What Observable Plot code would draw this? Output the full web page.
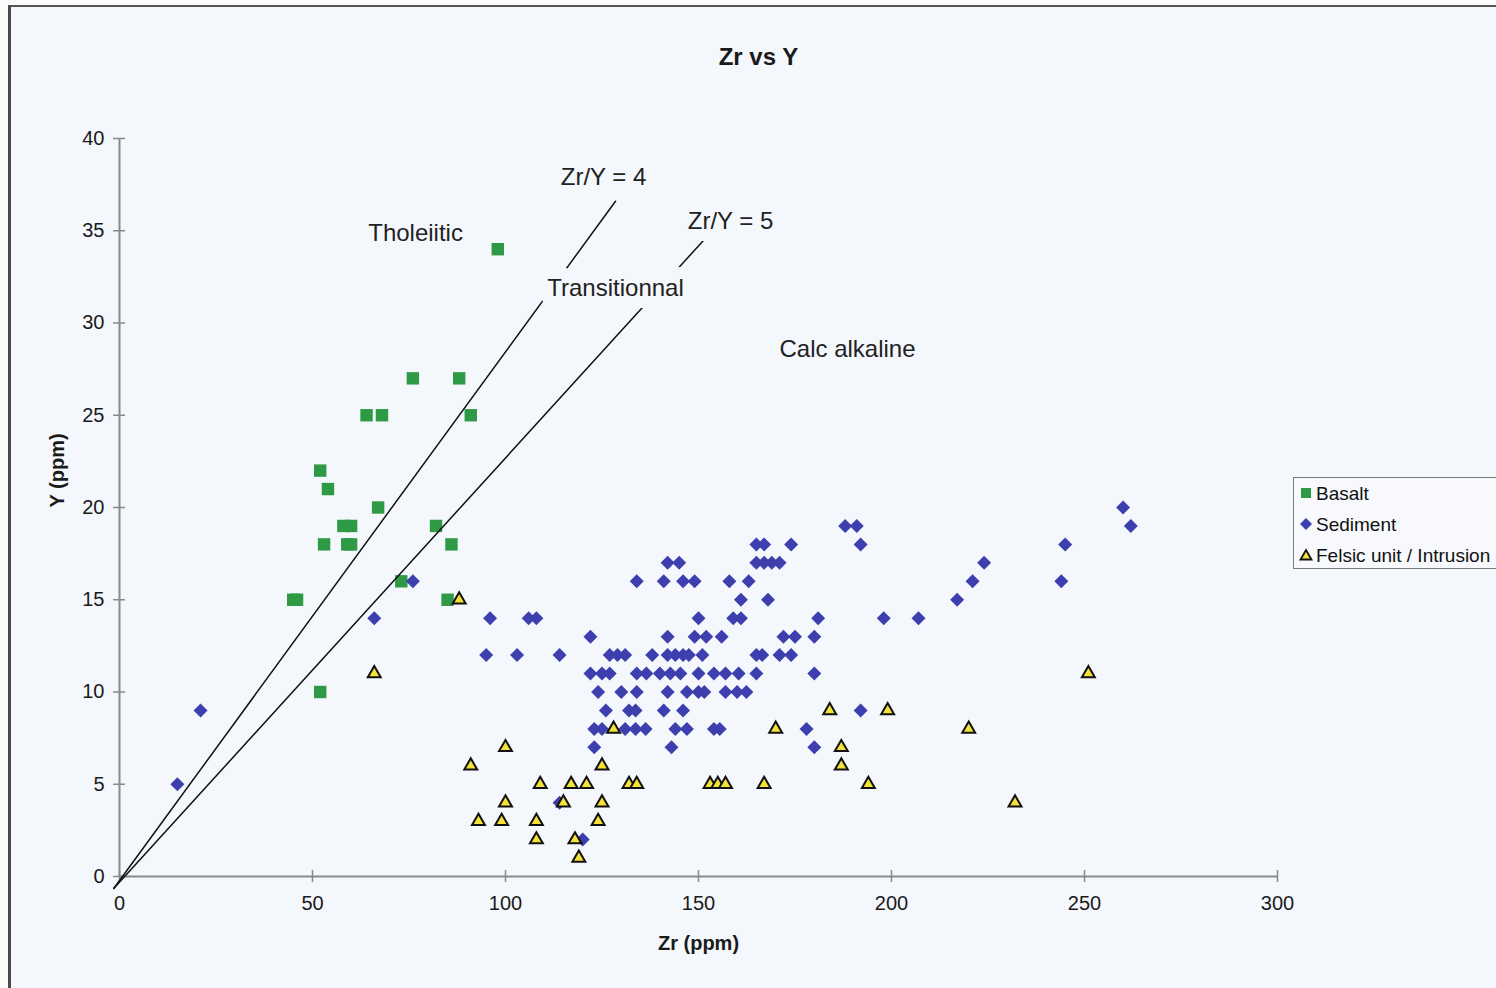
<!DOCTYPE html>
<html><head><meta charset="utf-8">
<script src="https://cdn.jsdelivr.net/npm/d3@7"></script>
<script src="https://cdn.jsdelivr.net/npm/@observablehq/plot@0.6"></script>
<style>
html,body{margin:0;padding:0;background:#fbfbfc;}
#wrap{position:relative;width:1496px;height:988px;overflow:hidden;background:#fbfbfc;font-family:"Liberation Sans",Arial,sans-serif;}
#frame{position:absolute;left:8px;top:5px;width:1520px;height:1000px;border-left:3px solid #4a4a4a;border-top:2px solid #555;box-sizing:border-box;background:#f4f7fc;}
#chart{position:absolute;left:0;top:0;}
#legend{position:absolute;left:1293px;top:477px;width:220px;height:92px;border:1px solid #7a7a7a;background:#f7f9fc;box-sizing:border-box;}
</style>
</head><body>
<div id="wrap"><div id="frame"></div><div id="chart"></div><div id="legend"></div></div>
<script>
// ---- data ----
const xTicks = [0, 50, 100, 150, 200, 250, 300];
const yTicks = [0, 5, 10, 15, 20, 25, 30, 35, 40];

const basaltZr = [98, 76, 88, 64, 68, 91, 52, 54, 67, 58, 60, 82, 53, 59, 60, 86, 73, 45, 46, 85, 52];
const basaltY  = [34, 27, 27, 25, 25, 25, 22, 21, 20, 19, 19, 19, 18, 18, 18, 18, 16, 15, 15, 15, 10];

const sedimentZr = [15, 21, 76, 66, 96, 106, 108, 95, 103, 114, 122,
  134, 142, 145, 141, 146, 149, 158, 163,
  165, 167, 174,
  165, 167, 169, 171,
  161, 168,
  150, 159, 161, 181,
  142, 149, 152, 156, 172, 175, 180,
  127, 129, 131, 138, 142, 144, 146, 147.5, 151, 165, 166.5, 171, 174,
  122, 125, 127, 134, 136.5, 140, 142.7, 145.3, 150, 154, 157, 160.4, 165, 180,
  124, 130, 134, 142, 147, 150, 151.5, 157, 160, 162.4,
  126, 132, 133.7, 141, 146, 192,
  123, 125, 131, 133.7, 136.3, 144, 147, 154, 155.5, 178,
  123, 143, 180,
  114, 120,
  260, 262, 245, 244, 224, 221, 217, 198, 207, 188, 191, 192];
const sedimentY = [5, 9, 16, 14, 14, 14, 14, 12, 12, 12, 13,
  16, 17, 17, 16, 16, 16, 16, 16,
  18, 18, 18,
  17, 17, 17, 17,
  15, 15,
  14, 14, 14, 14,
  13, 13, 13, 13, 13, 13, 13,
  12, 12, 12, 12, 12, 12, 12, 12, 12, 12, 12, 12, 12,
  11, 11, 11, 11, 11, 11, 11, 11, 11, 11, 11, 11, 11, 11,
  10, 10, 10, 10, 10, 10, 10, 10, 10, 10,
  9, 9, 9, 9, 9, 9,
  8, 8, 8, 8, 8, 8, 8, 8, 8, 8,
  7, 7, 7,
  4, 2,
  20, 19, 18, 16, 17, 16, 15, 14, 14, 19, 19, 18];

const felsicZr = [88, 66, 100, 91, 125, 109, 117, 121, 132, 134, 153, 155, 157, 167, 194,
  100, 115, 125, 93, 99, 108, 124, 108, 118, 119, 128, 170, 184, 199, 187, 187, 220, 232, 251];
const felsicY  = [15, 11, 7, 6, 6, 5, 5, 5, 5, 5, 5, 5, 5, 5, 5,
  4, 4, 4, 3, 3, 3, 3, 2, 2, 1, 8, 8, 9, 9, 7, 6, 8, 4, 11];

// ratio lines as drawn (end points)
const line4Zr = [-1.5, 128.5];
const line4Y  = [-0.65, 36.6];
const line5Zr = [-1.5, 151.4];
const line5Y  = [-0.65, 34.5];

const regionLabels = ["Tholeiitic", "Transitionnal", "Calc alkaline", "Zr/Y = 4", "Zr/Y = 5"];
const regionZr = [76.7, 128.5, 188.6, 125.4, 158.3];
const regionY  = [34.85, 31.87, 28.6, 37.9, 35.5];

const seriesNames = ["Basalt", "Sediment", "Felsic unit / Intrusion"];
const chartTitle = "Zr vs Y";
const xTitle = "Zr (ppm)";
const yTitle = "Y (ppm)";

// ---- build tables ----
const zip = (xs, ys) => xs.map((x, i) => ({zr: x, y: ys[i]}));
const basalt = zip(basaltZr, basaltY);
const sediment = zip(sedimentZr, sedimentY);
const felsic = zip(felsicZr, felsicY);
const line4 = zip(line4Zr, line4Y);
const line5 = zip(line5Zr, line5Y);
const regions = regionLabels.map((t, i) => ({t, zr: regionZr[i], y: regionY[i]}));

const BG = "#f4f7fc";
const AX = "#8a8a8a";
const FONT = "'Liberation Sans', Arial, sans-serif";

const chart = Plot.plot({
  width: 1496, height: 988,
  marginLeft: 119, marginRight: 219, marginTop: 138, marginBottom: 112,
  x: {domain: [0, 300], axis: null},
  y: {domain: [0, 40], axis: null},
  style: {background: "transparent", fontFamily: FONT, color: "#1a1a1a"},
  marks: [
    Plot.ruleX([0], {stroke: AX, strokeWidth: 2}),
    Plot.ruleY([0], {stroke: AX, strokeWidth: 2}),
    Plot.axisX(xTicks, {tickSize: 12, dy: -6, tickFormat: () => "", label: null, stroke: AX, strokeWidth: 1.5}),
    Plot.axisY(yTicks, {tickSize: 12, dx: 6, tickFormat: () => "", label: null, stroke: AX, strokeWidth: 1.5}),
    Plot.axisX(xTicks, {tickSize: 0, tickPadding: 19, label: null, fontSize: 20, fill: "#1a1a1a"}),
    Plot.axisY(yTicks, {tickSize: 0, tickPadding: 15, label: null, fontSize: 20, fill: "#1a1a1a"}),
    Plot.dot(basalt, {x: "zr", y: "y", symbol: "square", r: 7, fill: "#2f9a45"}),
    Plot.dot(sediment, {x: "zr", y: "y", symbol: "diamond2", r: 6.3, fill: "#3d3fae"}),
    Plot.dot(felsic, {x: "zr", y: "y", symbol: "triangle", r: 4.8, fill: "#f2e23a", stroke: "#111", strokeWidth: 2}),
    Plot.line(line4, {x: "zr", y: "y", stroke: "#111", strokeWidth: 1.5}),
    Plot.line(line5, {x: "zr", y: "y", stroke: "#111", strokeWidth: 1.5}),
    Plot.text(regions, {x: "zr", y: "y", text: "t", fontSize: 24, fill: "#222", stroke: BG, strokeWidth: 24, strokeLinejoin: "round"}),
    Plot.text([chartTitle], {text: d => d, frameAnchor: "top", lineAnchor: "middle", dx: 60, dy: -81, fontSize: 24, fontWeight: "bold", fill: "#1a1a1a"}),
    Plot.text([xTitle], {text: d => d, frameAnchor: "bottom", lineAnchor: "middle", dy: 67, fontSize: 20, fontWeight: "bold", fill: "#1a1a1a"}),
    Plot.text([yTitle], {text: d => d, frameAnchor: "left", dx: -62, rotate: -90, fontSize: 20, fontWeight: "bold", fill: "#1a1a1a"})
  ]
});
document.getElementById("chart").appendChild(chart);

// ---- legend ----
const legendSymbols = [
  '<rect x="-5" y="-5" width="10" height="10" fill="#2f9a45"/>',
  '<path d="M0,-6L6,0L0,6L-6,0Z" fill="#3d3fae"/>',
  '<path d="M0,-5L5.5,4.5L-5.5,4.5Z" fill="#f2e23a" stroke="#111" stroke-width="1.8"/>'
];
const lg = document.getElementById("legend");
let s = '<svg width="220" height="92" style="display:block">';
seriesNames.forEach((n, i) => {
  const cy = 15 + i * 31;
  s += `<g transform="translate(12,${cy})">${legendSymbols[i]}</g>`;
  s += `<text x="22" y="${cy}" dy="0.35em" font-size="19" font-family="${FONT.replace(/'/g, "")}" fill="#111">${n}</text>`;
});
s += '</svg>';
lg.innerHTML = s;
</script>
</body></html>
